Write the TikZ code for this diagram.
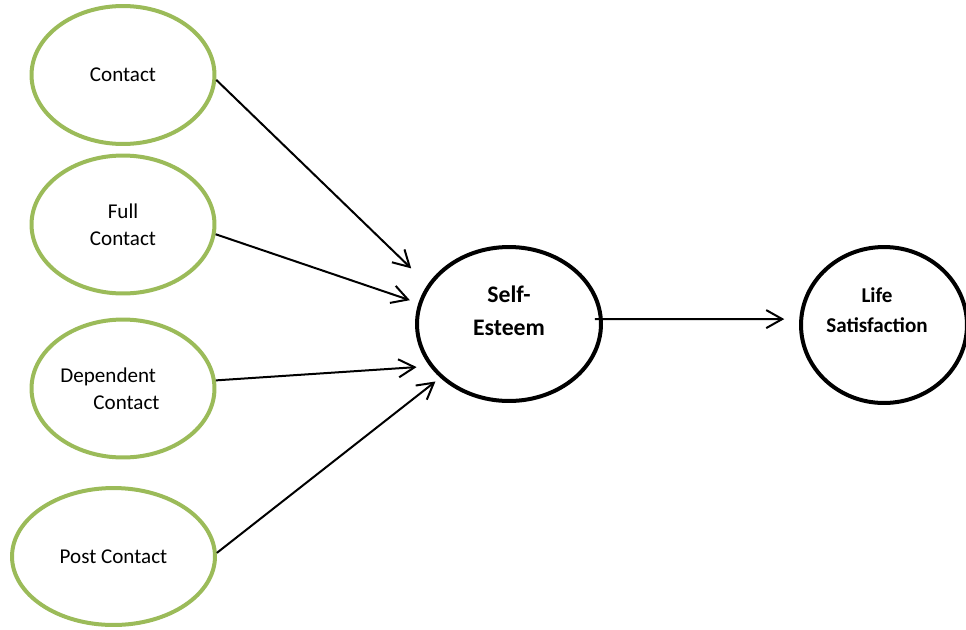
\documentclass[tikz,border=0pt]{standalone}
\usepackage{fontspec}
\setmainfont{Carlito}
\usepackage{tikz}
\usetikzlibrary{shapes.geometric}
\usetikzlibrary{arrows.meta}
\definecolor{ovalgreen}{HTML}{9BBB59}
\tikzset{%
  g/.style = {ellipse,draw=ovalgreen,line width=0.08cm,inner sep=0pt,
        minimum width=3.66cm,minimum height=2.76cm,align=center,
        font=\fontsize{12}{15.4}\selectfont},
  b/.style = {ellipse,draw=black,line width=0.08cm,inner sep=0pt,
        align=center},
  arr/.style = {-{Straight Barb[length=0.32cm,width=0.36cm]},line width=0.04cm}
}
\begin{document}
\begin{tikzpicture}[x=0.02cm,y=-0.02cm]
    \useasboundingbox (0,0) rectangle (966,629);
    % left side
    \node[g] (contact) at (123,75) {Contact};
    \node[g] (full) at (123,224.5) {Full\\Contact};
    \node[g,align=left] (dep) at (123,388.5)
        {Dependent\\\hspace*{0.66cm}Contact\hspace*{0.52cm}};
    \node[g,minimum width=4.06cm,minimum height=2.74cm] (post) at (113.5,556.5) {Post Contact};
    % right side
    \node[b,minimum width=3.68cm,minimum height=3.08cm,text depth=0.52cm,
        font=\fontsize{13.5}{18.8}\selectfont\bfseries] (self) at (509,324) {Self-\\Esteem};
    \node[b,minimum width=3.32cm,minimum height=3.12cm,text depth=0.58cm,
        font=\fontsize{12}{17}\selectfont\bfseries] (life) at (884,325)
        {Life\hspace*{0.28cm}\\Satisfaction\hspace*{0.28cm}};
    % paths
    \draw[arr,shorten >=0.46cm] (contact.-3) -- (self.154.4);
    \draw[arr,shorten >=0.18cm] (full.-6) -- (self.167);
    \draw[arr,shorten >=0.26cm] (dep.5) -- (self.208.6);
    \draw[arr,shorten >=0.12cm] (post.2) -- (self.218.6);
    \draw[arr,shorten >=0.3cm,shorten <=-0.16cm] (self.3) -- (life.176.6);
\end{tikzpicture}
\end{document}
